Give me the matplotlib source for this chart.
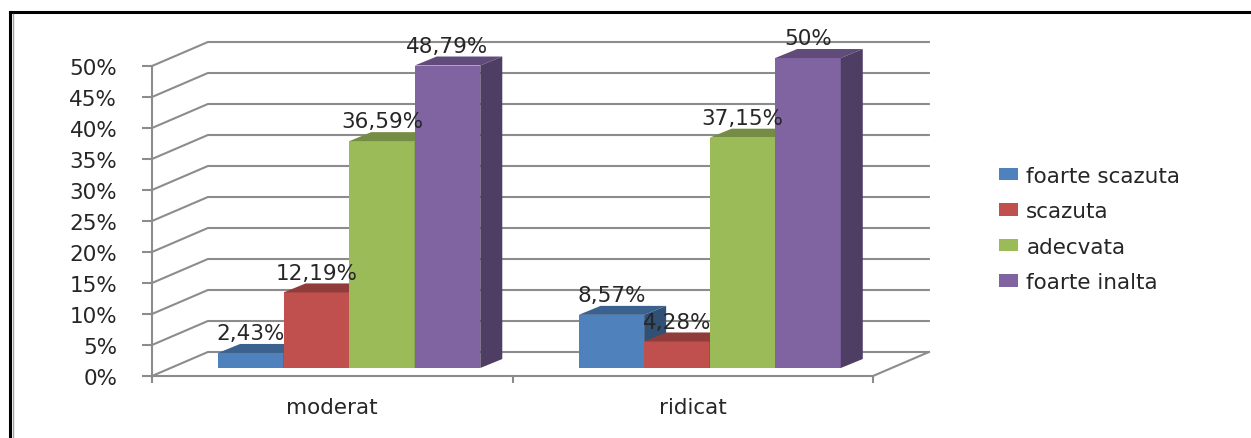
import matplotlib
matplotlib.use("Agg")
import matplotlib.pyplot as plt
from matplotlib.patches import Polygon, Patch
from matplotlib.lines import Line2D
import numpy as np

groups = ["moderat", "ridicat"]
series = ["foarte scazuta", "scazuta", "adecvata", "foarte inalta"]
values = {
    "foarte scazuta": [2.43, 8.57],
    "scazuta": [12.19, 4.28],
    "adecvata": [36.59, 37.15],
    "foarte inalta": [48.79, 50.0],
}
colors = ["#4F81BD", "#C0504D", "#9BBB59", "#8064A2"]
yticks = np.arange(0, 51, 5)

W, H = 1251, 439
fig = plt.figure(figsize=(W / 100, H / 100), dpi=100)
fig.patch.set_facecolor("white")
plt.rcParams["font.family"] = "DejaVu Sans"

# front plane of the floor/axis, in figure pixels
left, right, bottom, top = 152, 873, 377, 67
ax = fig.add_axes([left / W, 1 - bottom / H, (right - left) / W, (bottom - top) / H])
ax.set_xlim(-0.5, 1.5)
ax.set_ylim(0, 50)
ax.patch.set_alpha(0)

GRID = "#8C8C8C"
TXT = "#262626"
FS = 15.5

# depth offsets (data units): full wall depth, bar plane, bar thickness
DX, DY = 0.155, 3.87
BX, BY = 0.047, 1.29
TX, TY = 0.061, 1.45
bw = 1 / 5.5

# side wall and back wall gridlines
for t in yticks:
    ax.plot([-0.5, -0.5 + DX, 1.5 + DX], [t, t + DY, t + DY],
            color=GRID, lw=1.5, zorder=1, clip_on=False)
# floor edge on the right
ax.plot([1.5, 1.5 + DX], [0, DY], color=GRID, lw=1.5, zorder=1, clip_on=False)


def shade(c, f):
    r, g, b = matplotlib.colors.to_rgb(c)
    return (r * f, g * f, b * f)


x = np.arange(len(groups))
z = 2
for gi in range(len(groups)):
    for si, name in enumerate(series):
        v = values[name][gi]
        x0 = x[gi] + (si - 1.5) * bw - bw / 2 + BX
        x1 = x0 + bw
        y0 = BY
        y1 = BY + v
        c = colors[si]
        ax.bar(x0, v, width=bw, bottom=y0, align="edge", color=c,
               lw=0, zorder=z, clip_on=False)
        ax.add_patch(Polygon([(x0, y1), (x1, y1), (x1 + TX, y1 + TY), (x0 + TX, y1 + TY)],
                             closed=True, fc=shade(c, 0.75), lw=0, zorder=z, clip_on=False))
        ax.add_patch(Polygon([(x1, y0), (x1 + TX, y0 + TY), (x1 + TX, y1 + TY), (x1, y1)],
                             closed=True, fc=shade(c, 0.62), lw=0, zorder=z, clip_on=False))
        z += 1
        txt = f"{v:.2f}".replace(".", ",") if v != int(v) else f"{int(v)}"
        ax.annotate(txt + "%", (x0 + bw / 2, y1 + TY), xytext=(0, 3.5),
                    textcoords="offset points", ha="center", va="baseline",
                    fontsize=FS, color=TXT, zorder=50, annotation_clip=False)

# front axis lines
for s in ["top", "right"]:
    ax.spines[s].set_visible(False)
for s in ["left", "bottom"]:
    ax.spines[s].set_color(GRID)
    ax.spines[s].set_linewidth(1.5)
    ax.spines[s].set_zorder(1)

ax.set_yticks(yticks)
ax.set_yticklabels([f"{t}%" for t in yticks])
ax.tick_params(axis="y", direction="out", length=7, width=1.5, color=GRID,
               pad=18, labelsize=FS, labelcolor=TXT)
ax.set_xticks([-0.5, 0.5, 1.5])
ax.set_xticklabels([])
ax.tick_params(axis="x", which="major", direction="out", length=5, width=1.5, color=GRID)
ax.set_xticks(x, minor=True)
ax.set_xticklabels(groups, minor=True)
ax.tick_params(axis="x", which="minor", length=0, pad=15, labelsize=FS, labelcolor=TXT)

handles = [Patch(fc=c, lw=0) for c in colors]
fig.legend(handles, series, loc="center left", bbox_to_anchor=(980 / W, 1 - 230 / H),
           frameon=False, fontsize=FS, handlelength=0.85, handleheight=0.5,
           handletextpad=0.4, labelspacing=0.72, labelcolor=TXT)

# outer frame
fig.add_artist(Line2D([9.5 / W, 9.5 / W], [0, 1 - 12.5 / H], color="black", lw=2.2,
                      transform=fig.transFigure))
fig.add_artist(Line2D([9.5 / W, 1], [1 - 12.5 / H, 1 - 12.5 / H], color="black", lw=2.2,
                      transform=fig.transFigure))
fig.add_artist(Line2D([13 / W, 13 / W], [0, 1 - 15 / H], color="#A0A0A0", lw=1,
                      transform=fig.transFigure))

fig.savefig("out.png", dpi=100, facecolor="white")
